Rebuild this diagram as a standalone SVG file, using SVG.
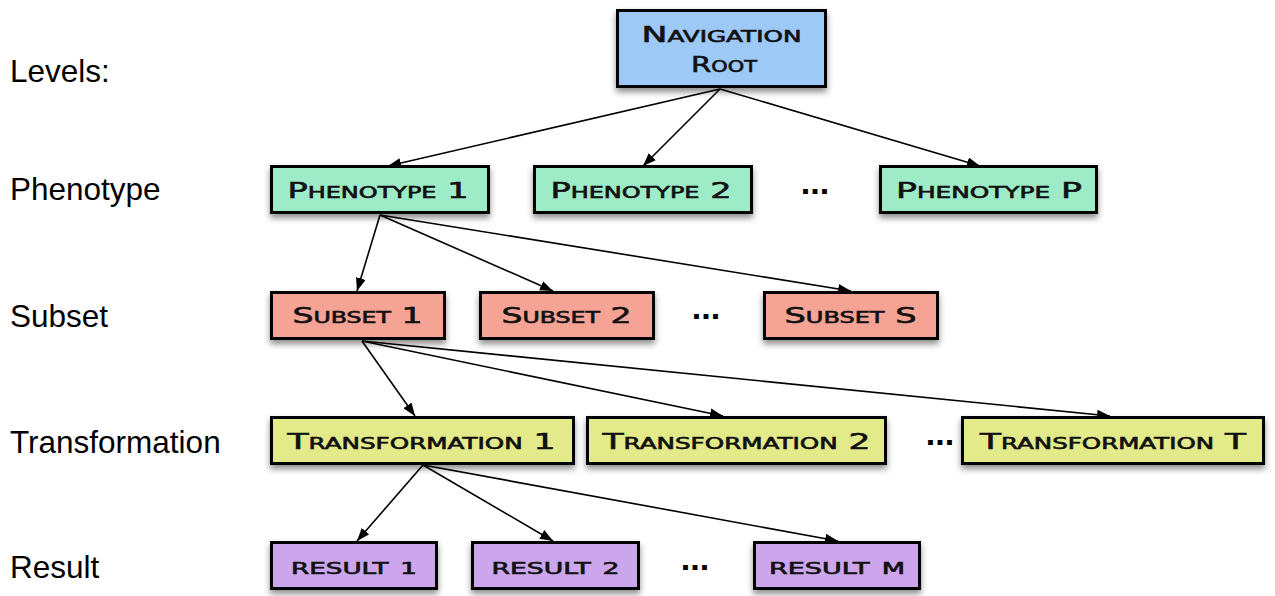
<svg xmlns="http://www.w3.org/2000/svg" width="1275" height="596" viewBox="0 0 1275 596">
<style>
.box{stroke:#000;stroke-width:3}
.root{fill:#9cc9f6}.phen{fill:#9eebc8}.sub{fill:#f4a394}.tra{fill:#e2ea8a}.res{fill:#cba6ec}
.t{font-family:"DejaVu Sans","Liberation Sans",sans-serif;font-variant:small-caps;font-weight:normal;font-size:21px;fill:#111;stroke:#111;stroke-width:0.6;text-anchor:middle}
.lv{font-family:"Liberation Sans",Arial,sans-serif;font-size:31.5px;fill:#000}
.dots{font-family:"Liberation Sans",Arial,sans-serif;font-size:34px;font-weight:bold;fill:#000;text-anchor:middle}
.c line{stroke:#000;stroke-width:1.6;fill:none}
</style>
<defs>
<filter id="sh" x="-10%" y="-20%" width="120%" height="160%">
<feDropShadow dx="0" dy="4" stdDeviation="3" flood-color="#000" flood-opacity="0.45"/>
</filter>
<marker id="ah" viewBox="0 0 13 10" refX="13" refY="5" markerWidth="13" markerHeight="10" markerUnits="userSpaceOnUse" orient="auto">
<path d="M0,0 L13,5 L0,10 Z" fill="#000"/>
</marker>
</defs>
<rect width="1275" height="596" fill="#fff"/>

<g id="level-labels">
<text class="lv" x="10" y="82">Levels:</text>
<text class="lv" x="10" y="200">Phenotype</text>
<text class="lv" x="10" y="327">Subset</text>
<text class="lv" x="10" y="453">Transformation</text>
<text class="lv" x="10" y="578">Result</text>
</g>

<g class="c" id="connectors">
<line x1="720" y1="89" x2="388" y2="166" marker-end="url(#ah)"/>
<line x1="720" y1="89" x2="643" y2="166" marker-end="url(#ah)"/>
<line x1="720" y1="89" x2="980" y2="166" marker-end="url(#ah)"/>
<line x1="380" y1="215" x2="357" y2="291" marker-end="url(#ah)"/>
<line x1="380" y1="215" x2="553" y2="291" marker-end="url(#ah)"/>
<line x1="380" y1="215" x2="851" y2="291" marker-end="url(#ah)"/>
<line x1="362" y1="341" x2="415" y2="416" marker-end="url(#ah)"/>
<line x1="362" y1="341" x2="723" y2="416" marker-end="url(#ah)"/>
<line x1="362" y1="341" x2="1110" y2="416" marker-end="url(#ah)"/>
<line x1="423" y1="465" x2="357" y2="541" marker-end="url(#ah)"/>
<line x1="423" y1="465" x2="553" y2="541" marker-end="url(#ah)"/>
<line x1="423" y1="465" x2="838" y2="541" marker-end="url(#ah)"/>
</g>

<g id="root"><rect class="box root" x="617.5" y="10.5" width="208" height="76" filter="url(#sh)"/>
<text class="t" x="721.5" y="42" textLength="160" lengthAdjust="spacingAndGlyphs">Navigation</text>
<text class="t" x="724" y="72" textLength="66" lengthAdjust="spacingAndGlyphs">Root</text></g>

<g id="phenotype1"><rect class="box phen" x="271.5" y="166.5" width="217" height="46" filter="url(#sh)"/>
<text class="t" x="378" y="197.5" textLength="181" lengthAdjust="spacingAndGlyphs">Phenotype 1</text></g>
<g id="phenotype2"><rect class="box phen" x="534.5" y="166.5" width="217" height="46" filter="url(#sh)"/>
<text class="t" x="641" y="197.5" textLength="181" lengthAdjust="spacingAndGlyphs">Phenotype 2</text></g>
<text class="dots" x="815" y="194">...</text>
<g id="phenotypeP"><rect class="box phen" x="880.5" y="166.5" width="216" height="46" filter="url(#sh)"/>
<text class="t" x="989" y="197.5" textLength="186" lengthAdjust="spacingAndGlyphs">Phenotype P</text></g>

<g id="subset1"><rect class="box sub" x="271.5" y="292.5" width="173" height="46" filter="url(#sh)"/>
<text class="t" x="357.5" y="323" textLength="130" lengthAdjust="spacingAndGlyphs">Subset 1</text></g>
<g id="subset2"><rect class="box sub" x="480.5" y="292.5" width="173" height="46" filter="url(#sh)"/>
<text class="t" x="566.5" y="323" textLength="130" lengthAdjust="spacingAndGlyphs">Subset 2</text></g>
<text class="dots" x="706" y="319">...</text>
<g id="subsetS"><rect class="box sub" x="764.5" y="292.5" width="173" height="46" filter="url(#sh)"/>
<text class="t" x="850.5" y="323" textLength="132" lengthAdjust="spacingAndGlyphs">Subset S</text></g>

<g id="transformation1"><rect class="box tra" x="271.5" y="417.5" width="302" height="46" filter="url(#sh)"/>
<text class="t" x="421.5" y="448.5" textLength="268" lengthAdjust="spacingAndGlyphs">Transformation 1</text></g>
<g id="transformation2"><rect class="box tra" x="587.5" y="417.5" width="298" height="46" filter="url(#sh)"/>
<text class="t" x="736.5" y="448.5" textLength="268" lengthAdjust="spacingAndGlyphs">Transformation 2</text></g>
<text class="dots" x="940" y="445">...</text>
<g id="transformationT"><rect class="box tra" x="962.5" y="417.5" width="301" height="46" filter="url(#sh)"/>
<text class="t" x="1113" y="448.5" textLength="266" lengthAdjust="spacingAndGlyphs">Transformation T</text></g>

<g id="result1"><rect class="box res" x="271.5" y="542.5" width="165" height="46" filter="url(#sh)"/>
<text class="t" x="354" y="573.5" textLength="126" lengthAdjust="spacingAndGlyphs">result <tspan font-size="15">1</tspan></text></g>
<g id="result2"><rect class="box res" x="472.5" y="542.5" width="166" height="46" filter="url(#sh)"/>
<text class="t" x="555.5" y="573.5" textLength="128" lengthAdjust="spacingAndGlyphs">result <tspan font-size="15">2</tspan></text></g>
<text class="dots" x="695" y="570">...</text>
<g id="resultM"><rect class="box res" x="754.5" y="542.5" width="165" height="46" filter="url(#sh)"/>
<text class="t" x="837" y="573.5" textLength="136" lengthAdjust="spacingAndGlyphs">result <tspan font-size="15">M</tspan></text></g>
</svg>
